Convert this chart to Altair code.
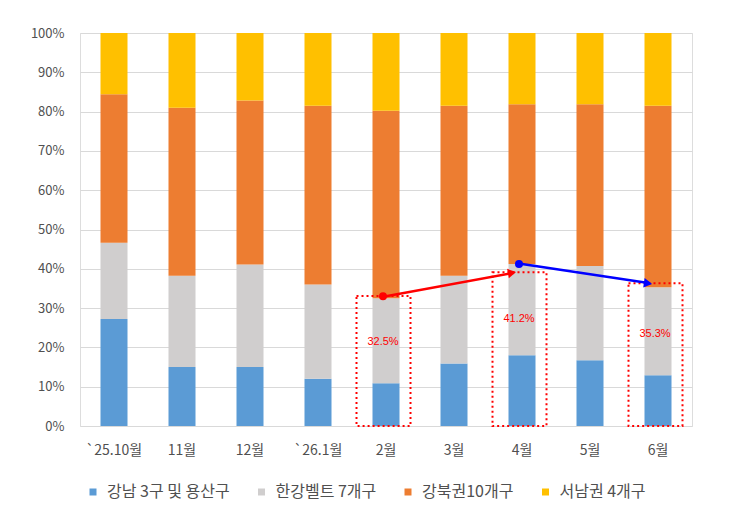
import math
import altair as alt
import pandas as pd

# Monthly share of transactions by Seoul district group (percent)
months = ["`25.10월", "11월", "12월", "`26.1월", "2월", "3월", "4월", "5월", "6월"]
groups = ["강남 3구 및 용산구", "한강벨트 7개구", "강북권10개구", "서남권 4개구"]
colors = ["#5B9BD5", "#D0CECE", "#ED7D31", "#FFC000"]

gangnam = [27.2, 15.0, 15.0, 12.0, 10.9, 15.9, 18.0, 16.7, 12.9]
hangang = [19.4, 23.2, 26.1, 24.0, 21.6, 22.3, 23.2, 24.0, 22.4]
gangbuk = [37.8, 42.8, 41.7, 45.5, 47.7, 43.3, 40.7, 41.2, 46.2]
seonam = [15.6, 19.0, 17.2, 18.5, 19.8, 18.5, 18.1, 18.1, 18.5]

# Highlighted months: combined share of 강남 3구 및 용산구 + 한강벨트 7개구
hl_months = ["2월", "4월", "6월"]
hl_share = [32.5, 41.2, 35.3]
hl_box_top = [33.1, 39.1, 36.3]

# Trend arrows between highlighted months
arrow_from = ["2월", "4월"]
arrow_to = ["4월", "6월"]
arrow_y_from = [33.0, 41.2]
arrow_y_to = [39.0, 36.3]
arrow_colors = ["#FF0000", "#0000FF"]

W, H = 612, 393
STEP = W / len(months)
FONT = "Noto Sans CJK KR"
TEXT_GRAY = "#505050"

rows = []
for series, vals in zip(groups, [gangnam, hangang, gangbuk, seonam]):
    for m, v in zip(months, vals):
        rows.append({"month": m, "group": series, "value": v / 100, "order": groups.index(series)})
bars_df = pd.DataFrame(rows)

hl_df = pd.DataFrame({
    "month": hl_months,
    "share": [s / 100 for s in hl_share],
    "box_top": [b / 100 for b in hl_box_top],
    "label": [f"{s:.1f}%" for s in hl_share],
})

def head_angle(y0, y1):
    dx = 2 * STEP - 10
    dy = -(y1 - y0) / 100 * H
    a = math.degrees(math.atan2(dy, dx))
    return a % 360

arrow_df = pd.DataFrame({
    "from": arrow_from,
    "to": arrow_to,
    "y0": [v / 100 for v in arrow_y_from],
    "y1": [v / 100 for v in arrow_y_to],
    "color": arrow_colors,
    "angle": [head_angle(a, b) for a, b in zip(arrow_y_from, arrow_y_to)],
})

x_scale = alt.Scale(domain=months, paddingInner=0.6, paddingOuter=0.3)
y_scale = alt.Scale(domain=[0, 1], nice=False)

x_axis = alt.Axis(labelAngle=0, labelFont=FONT, labelFontSize=14, labelColor=TEXT_GRAY,
                  labelPadding=17, domain=False, ticks=False, grid=False)
y_axis = alt.Axis(values=[i / 10 for i in range(11)], format=".0%", labelFont=FONT,
                  labelFontSize=13, labelColor=TEXT_GRAY, labelPadding=16,
                  domain=False, ticks=False, gridColor="#D9D9D9", gridWidth=1.2)

bars = alt.Chart(bars_df).mark_bar(size=27).encode(
    x=alt.X("month:N", scale=x_scale, title=None, axis=x_axis),
    y=alt.Y("value:Q", stack="zero", scale=y_scale, title=None, axis=y_axis),
    color=alt.Color("group:N", scale=alt.Scale(domain=groups, range=colors),
                    legend=alt.Legend(title=None, orient="none", direction="horizontal",
                                      legendX=5, legendY=451, symbolType="square", symbolSize=49,
                                      symbolStrokeWidth=0, labelFont=FONT, labelFontSize=16,
                                      labelColor=TEXT_GRAY, labelOffset=6, columnPadding=23.5)),
    order=alt.Order("order:Q"),
)

boxes = alt.Chart(hl_df).mark_bar(width=54, xOffset=-2.5, fillOpacity=0, stroke="#FF0000",
                                  strokeWidth=2, strokeDash=[2, 3]).encode(
    x=alt.X("month:N", scale=x_scale, title=None, axis=x_axis),
    y=alt.Y("box_top:Q", scale=y_scale, title=None, axis=y_axis),
)

labels = alt.Chart(hl_df).transform_calculate(
    label_y="datum.share * 0.66"
).mark_text(color="#FF0000", fontSize=11, font="Liberation Sans", dx=-3).encode(
    x=alt.X("month:N", scale=x_scale, title=None, axis=x_axis),
    y=alt.Y("label_y:Q", scale=y_scale, title=None, axis=y_axis),
    text="label:N",
)

lines = alt.Chart(arrow_df).mark_rule(strokeWidth=2.5, x2Offset=-8).encode(
    x=alt.X("from:N", scale=x_scale, title=None, axis=x_axis),
    x2="to:N",
    y=alt.Y("y0:Q", scale=y_scale, title=None, axis=y_axis),
    y2="y1:Q",
    color=alt.Color("color:N", scale=None),
)

dots = alt.Chart(arrow_df).mark_point(filled=True, size=64, opacity=1, xOffset=-3).encode(
    x=alt.X("from:N", scale=x_scale, title=None, axis=x_axis),
    y=alt.Y("y0:Q", scale=y_scale, title=None, axis=y_axis),
    color=alt.Color("color:N", scale=None),
)

heads = alt.Chart(arrow_df).mark_point(filled=True, shape="triangle-right", size=90, opacity=1,
                                       xOffset=-10).encode(
    x=alt.X("to:N", scale=x_scale, title=None, axis=x_axis),
    y=alt.Y("y1:Q", scale=y_scale, title=None, axis=y_axis),
    angle=alt.Angle("angle:Q", scale=None),
    color=alt.Color("color:N", scale=None),
)

chart = alt.layer(bars, boxes, labels, lines, dots, heads).properties(
    width=W, height=H,
    autosize=alt.AutoSizeParams(type="none"),
    padding={"left": 80, "top": 33, "right": 38, "bottom": 95},
).configure_view(stroke=None).configure(background="white")

chart.save("out.html", embed_options={"renderer": "svg", "actions": False})
